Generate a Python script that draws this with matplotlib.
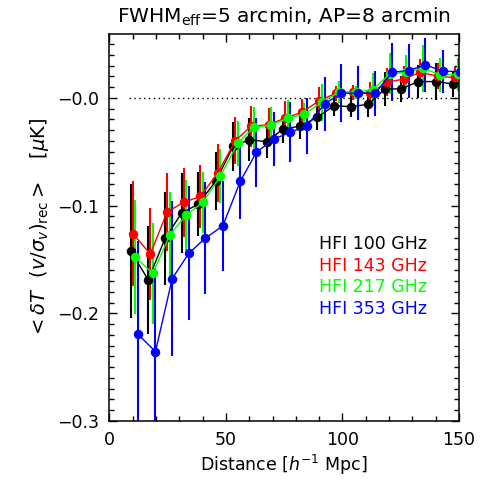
import matplotlib
matplotlib.use("Agg")
import matplotlib.pyplot as plt
import numpy as np
from matplotlib.ticker import MultipleLocator, FixedLocator

# ---- data ----
distance = [9.2, 16.7, 23.9, 31.0, 38.1, 45.6, 53.1, 60.0, 67.5, 74.6,
            81.7, 89.2, 96.4, 103.6, 111.0, 118.2, 125.3, 132.4, 140.0, 147.4]

labels = ["HFI 100 GHz", "HFI 143 GHz", "HFI 217 GHz", "HFI 353 GHz"]

y100 = [-0.142, -0.169, -0.1305, -0.107, -0.0986, -0.0775, -0.045, -0.0388, -0.0406, -0.0288,
        -0.0263, -0.018, -0.0072, -0.0081, -0.0059, 0.0084, 0.0084, 0.0152, 0.0152, 0.013]
e100 = [0.062, 0.05, 0.043, 0.037, 0.03, 0.027, 0.023, 0.02, 0.015, 0.013,
        0.012, 0.012, 0.01, 0.01, 0.012, 0.016, 0.012, 0.015, 0.017, 0.012]

y143 = [-0.126, -0.145, -0.1058, -0.097, -0.0915, -0.0698, -0.0397, -0.0263, -0.0248, -0.0186,
        -0.0133, -0.0025, 0.0045, 0.0053, 0.0044, 0.0146, 0.0175, 0.0239, 0.020, 0.019]
e143 = [0.049, 0.043, 0.036, 0.032, 0.029, 0.027, 0.022, 0.019, 0.015, 0.016,
        0.012, 0.013, 0.007, 0.007, 0.01, 0.013, 0.012, 0.012, 0.012, 0.01]

y217 = [-0.148, -0.163, -0.1274, -0.1088, -0.097, -0.0728, -0.0421, -0.0273, -0.0251, -0.0189,
        -0.0149, -0.004, 0.0053, 0.0053, 0.0077, 0.0223, 0.0239, 0.0276, 0.0215, 0.0218]
e217 = [0.053, 0.047, 0.04, 0.033, 0.028, 0.025, 0.021, 0.019, 0.017, 0.017,
        0.01, 0.017, 0.01, 0.006, 0.015, 0.019, 0.016, 0.022, 0.016, 0.015]

y353 = [-0.2195, -0.2356, -0.1677, -0.1442, -0.1302, -0.1188, -0.0772, -0.0505, -0.0381, -0.0319,
        -0.0258, -0.0056, 0.0044, 0.0044, 0.0044, 0.0239, 0.0254, 0.0307, 0.0248, 0.0245]
e353 = [0.087, 0.078, 0.072, 0.062, 0.052, 0.042, 0.035, 0.032, 0.025, 0.028,
        0.026, 0.025, 0.027, 0.025, 0.021, 0.027, 0.025, 0.025, 0.02, 0.015]

yticks = [-0.3, -0.2, -0.1, 0.0]
yticklabels = ["\u22120.3", "\u22120.2", "\u22120.1", "\u22120.0"]
xticks = [0, 50, 100, 150]

# ---- styling ----
series = [(y100, e100, "black", 0.0),
          (y143, e143, "#ff0000", 0.9),
          (y217, e217, "#00ff00", 2.0),
          (y353, e353, "#0000ff", 3.1)]

fig = plt.figure(figsize=(4.91, 4.91), dpi=100)
ax = fig.add_axes([0.2226, 0.1426, 0.935 - 0.2226, 0.9308 - 0.1426])

ax.hlines(0.0, 8.6, 150, colors="black", linestyles=(0, (1, 2.5)), linewidth=1.0, zorder=1)

for y, e, c, off in series:
    x = np.array(distance) + off
    ax.errorbar(x, y, yerr=e, fmt="none", ecolor=c, elinewidth=1.5, capsize=0, zorder=2)
    ax.plot(x, y, "-o", color=c, markersize=5.8, linewidth=1.0, zorder=3)

ax.set_xlim(0, 150)
ax.set_ylim(-0.3, 0.0594)
ax.xaxis.set_major_locator(FixedLocator(xticks))
ax.xaxis.set_minor_locator(MultipleLocator(10))
ax.yaxis.set_major_locator(FixedLocator(yticks))
ax.set_yticklabels(yticklabels)
ax.yaxis.set_minor_locator(MultipleLocator(0.01))
ax.tick_params(which="both", direction="in", top=True, right=True, labelsize=12.5, width=1.0)
ax.tick_params(which="major", length=6, pad=7)
ax.tick_params(which="minor", length=3.5)
for s in ax.spines.values():
    s.set_linewidth(1.1)

ax.set_xlabel(r"Distance [$h^{-1}$ Mpc]", fontsize=12.5, labelpad=3)
ax.set_ylabel(r"${<}\delta T\ \ (v/\sigma_v)_{\rm rec}{>}$   [$\mu$K]", fontsize=14, labelpad=5)
ax.set_title(r"FWHM$_{\rm eff}$=5 arcmin, AP=8 arcmin", fontsize=14.5, pad=8)

for i, (lab, (_, _, c, _)) in enumerate(zip(labels, series)):
    ax.text(0.6, 0.4575 - i * 0.056, lab, color=c, fontsize=12.5,
            transform=ax.transAxes, va="center", ha="left")

fig.savefig("out.png", dpi=100)
